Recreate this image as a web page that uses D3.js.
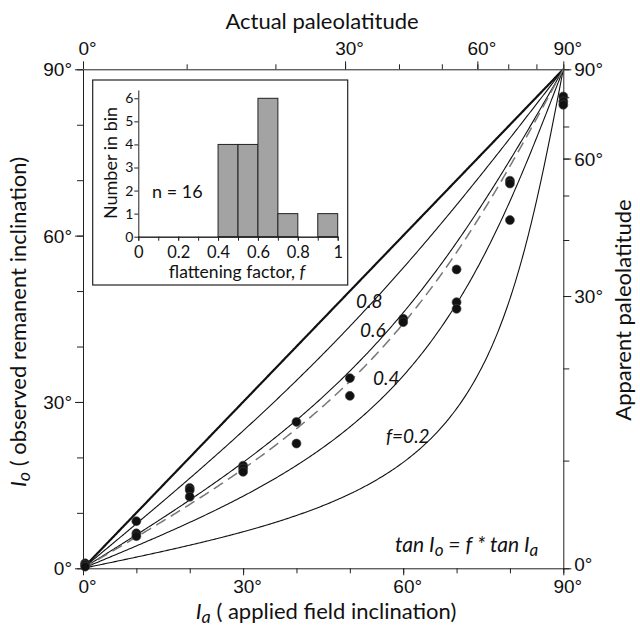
<!DOCTYPE html>
<html lang="en">
<head>
<meta charset="utf-8">
<title>inclination flattening</title>
<script src="https://d3js.org/d3.v7.min.js"></script>
<style>
  body{margin:0;background:#fff;}
  text{font-family:Lato,"Open Sans",sans-serif;fill:#111;}
  .ax text{font-family:"Liberation Sans",Arial,sans-serif;font-size:19px;fill:#111;}
  .ax path,.ax line{stroke:#222;stroke-width:1;}
  .hax text{font-family:Lato,sans-serif;fill:#111;}
  .hax path,.hax line{stroke:#222;}
</style>
</head>
<body>
<svg id="chart" width="640" height="635"></svg>
<script>
// data
let appliedInc =[0.4,0.4,0.4, 10,10,10, 20,20,20, 30,30,30, 40,40, 50,50, 60,60, 70,70,70, 80,80,80, 90,90,90];
let observedInc=[0.9,0.6,0.3, 8.5,6.3,5.8, 14.5,14.1,12.9, 18.5,18.0,17.4, 26.4,22.5, 34.3,31.1, 45.0,44.4, 53.9,48.0,46.8, 69.9,69.4,62.8, 85.1,84.2,83.6];
let fLines=[1,0.8,0.6,0.4,0.2];
let fLabels=["","0.8","0.6","0.4","f=0.2"];
let fMean=0.56;
let binStart=[0,0.1,0.2,0.3,0.4,0.5,0.6,0.7,0.8,0.9];
let binCount=[0,0,0,0,4,4,6,1,0,1];
let degMinor=[0,10,20,30,40,50,60,70,80,90];
let degMajor=[0,30,60,90];
let histXMinor=[0,0.1,0.2,0.3,0.4,0.5,0.6,0.7,0.8,0.9,1];
let histXMajor=[0,0.2,0.4,0.6,0.8,1];
let histYTicks=[0,1,2,3,4,5,6];

let svg=d3.select("#chart");
let rad=Math.PI/180;
let x=d3.scaleLinear().domain([0,90]).range([83,563.3]);
let y=d3.scaleLinear().domain([0,90]).range([568.3,69.3]);
function flat(f,ia){ if(ia>=90) return 90; return Math.atan(f*Math.tan(ia*rad))/rad; }
function incOfLat(l){ if(l>=90) return 90; return Math.atan(2*Math.tan(l*rad))/rad; }
let fmtDeg=d=>d+"\u00b0";

// axes: minor ticks then major ticks with labels
function axisPair(gen,scale,tr,minorVals,majorVals,fmt,minorLen,majorLen){
	svg.append("g").attr("class","ax").attr("transform",tr)
		.call(gen(scale).tickValues(minorVals).tickSize(minorLen).tickSizeOuter(0).tickFormat(""));
	let g=svg.append("g").attr("class","ax").attr("transform",tr)
		.call(gen(scale).tickValues(majorVals).tickSize(majorLen).tickSizeOuter(0).tickFormat(fmt));
	g.select(".domain").remove();
	return g;
}
let bx=axisPair(d3.axisBottom,x,"translate(0,568.3)",degMinor,degMajor,fmtDeg,5,7);
bx.selectAll("text").attr("dx",4).attr("dy","0.75em");
let lx=axisPair(d3.axisLeft,y,"translate(83,0)",degMinor,degMajor,fmtDeg,6,8);
lx.selectAll("text").attr("dy","0.35em");
let tx=axisPair(d3.axisTop,x,"translate(0,69.3)",degMinor.map(incOfLat),degMajor.map(incOfLat),(d,i)=>fmtDeg(degMajor[i]),5,8);
tx.selectAll("text").attr("dx",4).attr("dy","-0.2em");
let rx=axisPair(d3.axisRight,y,"translate(563.3,0)",degMinor.map(incOfLat),degMajor.map(incOfLat),(d,i)=>fmtDeg(degMajor[i]),6,8);
rx.selectAll("text").attr("dy",(d,i)=>i==0?"0.12em":"0.35em");

// flattening curves
let iaGrid=d3.range(0,90.001,0.25);
let line=d3.line().x(d=>x(d[0])).y(d=>y(d[1]));
fLines.forEach((f,i)=>{
	svg.append("path").datum(iaGrid.map(a=>[a,flat(f,a)]))
		.attr("d",line).attr("fill","none").attr("stroke","#111")
		.attr("stroke-width",f==1?2.2:1.1);
});
svg.append("path").datum(iaGrid.map(a=>[a,flat(fMean,a)]))
	.attr("d",line).attr("fill","none").attr("stroke","#777")
	.attr("stroke-width",1.5).attr("stroke-dasharray","11,6");

// curve labels
let labPos=[null,[356,308],[360,337],[373,385],[386,443]];
fLabels.forEach((t,i)=>{
	if(!t) return;
	svg.append("text").attr("x",labPos[i][0]).attr("y",labPos[i][1])
		.style("font-size","19px").style("font-style","italic").text(t);
});

// data points
svg.selectAll("circle.pt").data(appliedInc).enter().append("circle")
	.attr("class","pt").attr("cx",d=>x(d)).attr("cy",(d,i)=>y(observedInc[i]))
	.attr("r",4.5).attr("fill","#111").attr("stroke","#444").attr("stroke-width",0.6);

// axis titles
svg.append("text").attr("x",322).attr("y",29).attr("text-anchor","middle")
	.style("font-size","22px").text("Actual paleolatitude");
let bt=svg.append("text").attr("x",326).attr("y",619).attr("text-anchor","middle").style("font-size","22px");
bt.append("tspan").style("font-style","italic").text("I");
bt.append("tspan").style("font-style","italic").style("font-size","18px").attr("dy",4).text("a");
bt.append("tspan").attr("dy",-4).text(" ( applied field inclination)");
let lt=svg.append("text").attr("transform","translate(26,322) rotate(-90)")
	.attr("text-anchor","middle").style("font-size","22px");
lt.append("tspan").style("font-style","italic").text("I");
lt.append("tspan").style("font-style","italic").style("font-size","18px").attr("dy",4).text("o");
lt.append("tspan").attr("dy",-4).text(" ( observed remanent inclination)");
svg.append("text").attr("transform","translate(631,310) rotate(-90)")
	.attr("text-anchor","middle").style("font-size","22px").text("Apparent paleolatitude");

// equation
let eq=svg.append("text").attr("x",395).attr("y",552).style("font-size","21px").style("font-style","italic");
eq.append("tspan").text("tan I");
eq.append("tspan").style("font-size","17px").attr("dy",4).text("o");
eq.append("tspan").attr("dy",-4).text(" = f * tan I");
eq.append("tspan").style("font-size","17px").attr("dy",4).text("a");

// inset histogram
svg.append("rect").attr("x",92.7).attr("y",80).attr("width",255).attr("height",205)
	.attr("fill","#fff").attr("stroke","#222").attr("stroke-width",1.2);
let hx=d3.scaleLinear().domain([0,1]).range([138.3,337.7]);
let hy=d3.scaleLinear().domain([0,6.36]).range([236.7,90]);
binCount.forEach((c,i)=>{
	if(c==0) return;
	svg.append("rect").attr("class","bar")
		.attr("x",hx(binStart[i])).attr("width",hx(binStart[i]+0.1)-hx(binStart[i]))
		.attr("y",hy(c)).attr("height",hy(0)-hy(c))
		.attr("fill","#a3a3a3").attr("stroke","#222").attr("stroke-width",1);
});
svg.append("g").attr("class","hax").attr("transform","translate(0,236.7)")
	.call(d3.axisBottom(hx).tickValues(histXMinor).tickSize(4).tickSizeOuter(0).tickFormat(""));
let hxa=svg.append("g").attr("class","hax").attr("transform","translate(0,236.7)")
	.call(d3.axisBottom(hx).tickValues(histXMajor).tickSize(4).tickSizeOuter(0).tickFormat(d3.format("")));
hxa.selectAll("text").style("font-size","16.5px").attr("dy","0.85em");
let hya=svg.append("g").attr("class","hax").attr("transform","translate(138.3,0)")
	.call(d3.axisLeft(hy).tickValues(histYTicks).tickSize(4).tickSizeOuter(0).tickFormat(d3.format("d")));
hya.selectAll("text").style("font-size","14px").attr("x",-5);
svg.append("text").attr("transform","translate(117,163) rotate(-90)").attr("text-anchor","middle")
	.style("font-size","18px").text("Number in bin");
svg.append("text").attr("x",152).attr("y",198).style("font-size","18px").text("n = 16");
let fl=svg.append("text").attr("x",237).attr("y",278).attr("text-anchor","middle").style("font-size","17.5px");
fl.append("tspan").text("flattening factor, ");
fl.append("tspan").style("font-style","italic").text("f");
</script>
</body>
</html>
